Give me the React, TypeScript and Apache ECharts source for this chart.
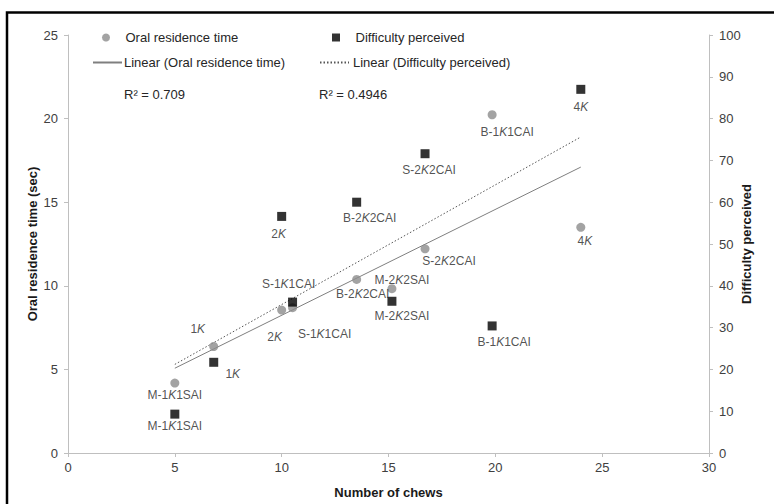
import React, { useEffect, useRef } from "react";
import * as echarts from "echarts";

// ---- Data ----
const pointNames = ["M-1K1SAI", "1K", "2K", "S-1K1CAI", "B-2K2CAI", "M-2K2SAI", "S-2K2CAI", "B-1K1CAI", "4K"];
const chews = [5.0, 6.82, 10.0, 10.51, 13.51, 15.16, 16.71, 19.85, 24.0];
const oralTime = [4.18, 6.37, 8.55, 8.69, 10.38, 9.83, 12.21, 20.23, 13.5];
const difficulty = [9.3, 21.7, 56.6, 36.1, 60.0, 36.3, 71.6, 30.4, 87.0];

// trend lines (end points)
const trendX = [5, 24];
const trendOral = [5.07, 17.1];
const trendDiff = [21.2, 75.6];

const r2Oral = "R\u00B2 = 0.709";
const r2Diff = "R\u00B2 = 0.4946";

const xTicks = { min: 0, max: 30, interval: 5 };
const yLeftTicks = { min: 0, max: 25, interval: 5 };
const yRightTicks = { min: 0, max: 100, interval: 10 };

// label offsets (layout, px) relative to each marker centre
const oralLabelOffsets = [[0, 12], [-16, -17], [-7, 27], [32, 26], [6, 15], [10, -9], [24, 12], [15, 17], [4, 14]];
const diffLabelOffsets = [[0, 12], [19, 12], [-3, 18], [-4, -18], [13, 16], [10, 15], [4, 16], [12, 16], [0, 18]];

const FONT = "Liberation Sans, Arial, sans-serif";
const TXT = "#262626";

function fmt(name: string) {
  return name.replace(/K/g, "{i|K}");
}

export default function App() {
  const ref = useRef<HTMLDivElement>(null);
  useEffect(() => {
    document.body.style.margin = "0";
    const chart = echarts.init(ref.current!, null, { renderer: "svg" });
    const labelBase = {
      show: true,
      position: "inside",
      align: "center",
      verticalAlign: "middle",
      fontFamily: FONT,
      fontSize: 12,
      color: TXT,
      rich: { i: { fontStyle: "italic", fontFamily: FONT, fontSize: 12, color: TXT } },
    };
    const oralData = pointNames.map((n, i) => ({
      name: n,
      value: [chews[i], oralTime[i]],
      label: { ...labelBase, offset: oralLabelOffsets[i], formatter: fmt(n) },
    }));
    const diffData = pointNames.map((n, i) => ({
      name: n,
      value: [chews[i], difficulty[i]],
      label: { ...labelBase, offset: diffLabelOffsets[i], formatter: fmt(n) },
    }));
    const axisLine = { show: true, lineStyle: { color: "#bfbfbf", width: 1 } };
    const axisTick = { show: true, length: 4, lineStyle: { color: "#bfbfbf" } };
    const axisLabel = { fontFamily: FONT, fontSize: 13, color: "#404040" };
    const nameStyle = { fontFamily: FONT, fontSize: 13, fontWeight: "bold", color: "#1a1a1a" };
    const legendCommon = {
      itemWidth: 29,
      itemHeight: 8,
      padding: 0,
      itemGap: 0,
      selectedMode: false,
      symbolKeepAspect: true,
      textStyle: { fontFamily: FONT, fontSize: 13, color: TXT },
    };
    chart.setOption({
      animation: false,
      backgroundColor: "#ffffff",
      grid: { left: 68, right: 65, top: 35, bottom: 50 },
      xAxis: {
        type: "value",
        ...xTicks,
        splitLine: { show: false },
        axisLine,
        axisTick,
        axisLabel: { ...axisLabel, margin: 8 },
        name: "Number of chews",
        nameLocation: "middle",
        nameGap: 33,
        nameMoveOverlap: false,
        nameTextStyle: nameStyle,
      },
      yAxis: [
        {
          type: "value",
          ...yLeftTicks,
          splitLine: { show: false },
          axisLine,
          axisTick,
          axisLabel: { ...axisLabel, margin: 10 },
          name: "Oral residence time (sec)",
          nameLocation: "middle",
          nameGap: 29,
          nameRotate: 90,
          nameMoveOverlap: false,
          nameTextStyle: nameStyle,
        },
        {
          type: "value",
          position: "right",
          ...yRightTicks,
          splitLine: { show: false },
          axisLine,
          axisTick,
          axisLabel: { ...axisLabel, margin: 10 },
          name: "Difficulty perceived",
          nameLocation: "middle",
          nameGap: 31,
          nameRotate: 90,
          nameMoveOverlap: false,
          nameTextStyle: nameStyle,
        },
      ],
      legend: [
        { ...legendCommon, left: 102, top: 31, data: [{ name: "Oral residence time", icon: "circle" }] },
        {
          ...legendCommon,
          left: 332,
          top: 31,
          data: [{ name: "Difficulty perceived", icon: "path://M0,0H10V10H0Z" }],
        },
        {
          ...legendCommon,
          left: 92,
          top: 56,
          textStyle: { ...legendCommon.textStyle, padding: [0, 0, 0, -3] },
          data: [{ name: "Linear (Oral residence time)", itemStyle: { opacity: 0 } }],
        },
        {
          ...legendCommon,
          left: 319,
          top: 56,
          textStyle: { ...legendCommon.textStyle, padding: [0, 0, 0, -1] },
          data: [{ name: "Linear (Difficulty perceived)", itemStyle: { opacity: 0 } }],
        },
      ],
      graphic: [
        {
          type: "polyline",
          shape: { points: [[7, 504], [7, 12.5], [774, 12.5]] },
          style: { stroke: "#000", lineWidth: 2.5, fill: null },
          silent: true,
        },
        {
          type: "text",
          left: 124,
          top: 88,
          style: { text: r2Oral, fontFamily: FONT, fontSize: 13, fill: TXT },
        },
        {
          type: "text",
          left: 319,
          top: 88,
          style: { text: r2Diff, fontFamily: FONT, fontSize: 13, fill: TXT },
        },
      ],
      series: [
        {
          name: "Linear (Oral residence time)",
          type: "line",
          yAxisIndex: 0,
          data: trendX.map((x, i) => [x, trendOral[i]]),
          symbol: "none",
          showSymbol: false,
          lineStyle: { color: "#7f7f7f", width: 1, type: "solid" },
          itemStyle: { color: "#7f7f7f" },
          z: 1,
        },
        {
          name: "Linear (Difficulty perceived)",
          type: "line",
          yAxisIndex: 1,
          data: trendX.map((x, i) => [x, trendDiff[i]]),
          symbol: "none",
          showSymbol: false,
          lineStyle: { color: "#555555", width: 1, type: [1.5, 2] },
          itemStyle: { color: "#555555" },
          z: 1,
        },
        {
          name: "Oral residence time",
          type: "scatter",
          yAxisIndex: 0,
          symbol: "circle",
          symbolSize: 9,
          itemStyle: { color: "#8c8c8c" },
          data: oralData,
          z: 3,
        },
        {
          name: "Difficulty perceived",
          type: "scatter",
          yAxisIndex: 1,
          symbol: "rect",
          symbolSize: 9,
          itemStyle: { color: "#000000" },
          data: diffData,
          z: 3,
        },
      ],
    });
    return () => chart.dispose();
  }, []);
  return (
    <div
      ref={ref}
      style={{ position: "absolute", left: 0, top: 0, width: 774, height: 504, background: "#fff" }}
    />
  );
}
